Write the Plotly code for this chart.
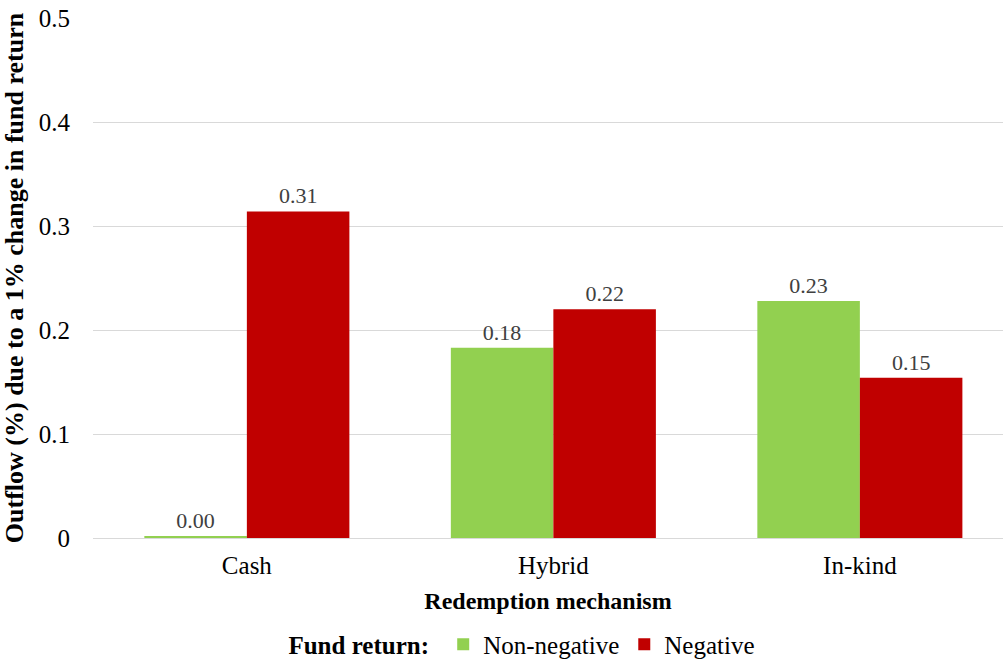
import plotly.graph_objects as go

categories = ["Cash", "Hybrid", "In-kind"]
non_negative = [0.002, 0.183, 0.228]
negative = [0.314, 0.220, 0.154]
y_ticks = [0, 0.1, 0.2, 0.3, 0.4, 0.5]
y_tick_labels = ["0", "0.1", "0.2", "0.3", "0.4", "0.5"]

FONT = "Liberation Serif"

fig = go.Figure()
fig.add_trace(go.Bar(
    x=categories, y=non_negative, name="Non-negative",
    marker=dict(color="#92d050", line=dict(width=0)),
    texttemplate="%{y:.2f}", textposition="outside",
    textfont=dict(family=FONT, size=22, color="#404040"),
    cliponaxis=False,
))
fig.add_trace(go.Bar(
    x=categories, y=negative, name="Negative",
    marker=dict(color="#c00000", line=dict(width=0)),
    texttemplate="%{y:.2f}", textposition="outside",
    textfont=dict(family=FONT, size=22, color="#404040"),
    cliponaxis=False,
))

fig.update_layout(
    width=1003, height=661,
    margin=dict(l=93, r=0, t=18, b=123, autoexpand=False),
    paper_bgcolor="white", plot_bgcolor="white",
    barmode="group", bargap=0.331, bargroupgap=0,
    font=dict(family=FONT, size=25, color="#000000"),
    showlegend=True,
    legend=dict(
        orientation="h", x=0.473, xanchor="center",
        yref="container", y=0.025, yanchor="middle",
        title=dict(text="<b>Fund return:</b> ", font=dict(family=FONT, size=25)),
        font=dict(family=FONT, size=25),
        itemwidth=30, traceorder="normal",
    ),
    xaxis=dict(
        range=[-0.502, 2.467], automargin=False,
        title=dict(text="<b>Redemption mechanism</b>", standoff=14,
                   font=dict(family=FONT, size=24)),
        showgrid=False, showline=False, ticks="", ticklabelstandoff=10,
        tickfont=dict(family=FONT, size=25),
    ),
    yaxis=dict(
        range=[0, 0.5], tickvals=y_ticks, ticktext=y_tick_labels,
        automargin=False,
        showgrid=True, gridcolor="#d9d9d9", gridwidth=1,
        zeroline=True, zerolinecolor="#d9d9d9", zerolinewidth=1,
        showline=False, ticks="", ticklabelstandoff=22,
        tickfont=dict(family=FONT, size=25),
        title=dict(text="<b>Outflow (%) due to a 1% change in fund return</b>",
                   standoff=7, font=dict(family=FONT, size=26)),
    ),
)

fig.write_html("out.html")
